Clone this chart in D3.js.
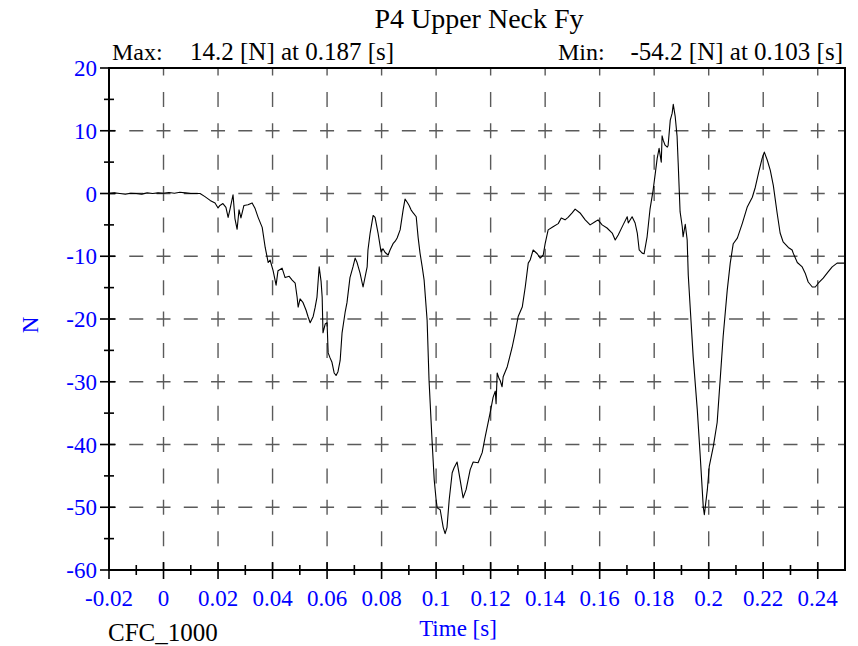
<!DOCTYPE html>
<html><head><meta charset="utf-8">
<script src="https://cdn.jsdelivr.net/npm/d3@7"></script>
<style>html,body{margin:0;padding:0;background:#fff;}svg{display:block;}</style>
</head><body>
<script>
// ---- data ----
const title = "P4 Upper Neck Fy";
const maxText = "14.2 [N] at 0.187 [s]";
const minText = "-54.2 [N] at 0.103 [s]";
const xTicks = [-0.02,0,0.02,0.04,0.06,0.08,0.1,0.12,0.14,0.16,0.18,0.2,0.22,0.24];
const xTickLabels = ["-0.02","0","0.02","0.04","0.06","0.08","0.1","0.12","0.14","0.16","0.18","0.2","0.22","0.24"];
const yTicks = [20,10,0,-10,-20,-30,-40,-50,-60];
const yTickLabels = ["20","10","0","-10","-20","-30","-40","-50","-60"];
const time = [-0.02,-0.018,-0.016,-0.014,-0.012,-0.010,-0.008,-0.006,-0.004,-0.002,0.000,0.002,0.004,0.006,0.008,0.010,0.0134,0.0152,0.0171,0.0189,0.0200,0.0207,0.0218,0.0229,0.0237,0.0244,0.0255,0.0262,0.0270,0.0277,0.0284,0.0295,0.0310,0.0325,0.0336,0.0347,0.0362,0.0373,0.0384,0.0391,0.0402,0.0413,0.0420,0.0435,0.0446,0.0461,0.0472,0.0483,0.0490,0.0494,0.0501,0.0512,0.0523,0.0530,0.0538,0.0549,0.0556,0.0563,0.0571,0.0578,0.0582,0.0585,0.0593,0.0600,0.0604,0.0611,0.0618,0.0626,0.0633,0.0640,0.0648,0.0655,0.0666,0.0673,0.0684,0.0695,0.0703,0.0710,0.0721,0.0732,0.0747,0.0750,0.0758,0.0769,0.0776,0.0787,0.0798,0.0805,0.0813,0.0824,0.0831,0.0842,0.0850,0.0857,0.0868,0.0879,0.0886,0.0894,0.0901,0.0908,0.0916,0.0927,0.0934,0.0941,0.0949,0.0956,0.0967,0.0974,0.0985,0.0993,0.1000,0.1004,0.1015,0.1026,0.1033,0.1040,0.1048,0.1059,0.1066,0.1077,0.1088,0.1099,0.1110,0.1125,0.1136,0.1154,0.1169,0.1180,0.1198,0.1209,0.1217,0.1220,0.1224,0.1231,0.1235,0.1242,0.1246,0.1261,0.1279,0.1290,0.1301,0.1316,0.1327,0.1338,0.1345,0.1356,0.1371,0.1382,0.1393,0.1400,0.1411,0.1429,0.1448,0.1459,0.1473,0.1484,0.1499,0.1510,0.1528,0.1547,0.1565,0.1583,0.1594,0.1609,0.1627,0.1646,0.1657,0.1668,0.1686,0.1701,0.1705,0.1719,0.1730,0.1738,0.1745,0.1756,0.1763,0.1774,0.1785,0.1796,0.1804,0.1811,0.1818,0.1826,0.1829,0.1833,0.1840,0.1848,0.1851,0.1859,0.1866,0.1870,0.1877,0.1884,0.1888,0.1895,0.1903,0.1906,0.1914,0.1921,0.1925,0.1932,0.1943,0.1958,0.1969,0.1980,0.1984,0.1995,0.2002,0.2017,0.2031,0.2042,0.2053,0.2068,0.2079,0.2090,0.2105,0.2123,0.2141,0.2160,0.2171,0.2185,0.2196,0.2204,0.2215,0.2226,0.2237,0.2251,0.2262,0.2273,0.2292,0.2306,0.2310,0.2325,0.2343,0.2354,0.2365,0.2380,0.2391,0.2402,0.2420,0.2438,0.2453,0.2471,0.2500];
const force = [0.0,0.1,0.0,-0.1,0.05,0.0,-0.1,0.1,0.0,0.1,0.05,0.15,0.05,0.2,0.1,0.0,0.0,-0.5,-1.1,-1.5,-2.3,-1.9,-1.6,-2.2,-3.8,-2.5,-0.2,-4.0,-5.7,-2.6,-3.9,-1.9,-1.8,-1.5,-2.4,-3.8,-5.4,-8.6,-11.0,-10.6,-12.3,-14.6,-12.3,-11.9,-13.4,-13.2,-13.8,-14.3,-16.5,-18.1,-16.8,-17.4,-18.6,-19.6,-20.6,-19.6,-18.2,-16.5,-11.7,-14.0,-16.5,-22.2,-20.8,-20.6,-25.4,-26.2,-26.9,-28.6,-29.0,-28.4,-26.6,-22.2,-19.0,-17.4,-13.4,-11.7,-10.3,-11.0,-12.7,-14.9,-11.7,-9.0,-6.3,-3.5,-3.8,-6.3,-9.3,-8.8,-9.4,-9.8,-9.0,-8.0,-7.6,-7.1,-5.8,-2.6,-0.9,-1.4,-1.9,-2.6,-3.1,-3.7,-7.0,-9.5,-11.7,-13.8,-20.2,-29.7,-39.3,-45.6,-48.8,-50.1,-50.4,-53.2,-54.2,-53.2,-48.8,-44.5,-43.7,-42.8,-45.6,-48.5,-47.2,-44.0,-42.8,-42.9,-41.3,-38.8,-35.0,-32.5,-31.5,-33.5,-28.6,-29.5,-29.8,-30.8,-29.2,-27.6,-24.5,-22.2,-19.6,-18.1,-14.9,-11.1,-10.6,-9.0,-9.6,-10.3,-9.8,-8.0,-5.8,-5.3,-4.8,-3.9,-4.2,-3.8,-3.1,-2.5,-3.1,-4.2,-5.0,-4.5,-4.2,-5.0,-5.5,-6.3,-7.4,-6.6,-5.0,-3.7,-4.7,-3.7,-4.7,-6.3,-9.0,-9.5,-9.6,-6.9,-2.4,0.5,3.2,5.6,7.2,5.0,9.2,8.5,7.7,7.4,7.6,11.7,12.8,14.2,12.3,9.1,4.9,-2.9,-5.3,-6.9,-4.9,-7.4,-13.0,-18.1,-26.0,-34.4,-41.9,-49.9,-51.2,-47.2,-43.5,-40.3,-36.5,-29.7,-22.8,-15.4,-11.1,-8.0,-7.1,-4.8,-2.2,-0.6,1.0,3.7,5.6,6.6,5.3,3.7,1.3,-3.1,-6.3,-7.7,-8.6,-9.0,-9.5,-11.0,-11.7,-12.7,-14.1,-14.9,-14.9,-14.3,-13.5,-12.5,-11.7,-11.1,-11.1];

// ---- layout ----
const W = 858, H = 646;
const L = 109, R = 845, T = 68, B = 570;
const FONT = "'Liberation Serif','Times New Roman',serif";
const BLUE = "#0000ff";

const svg = d3.select("body").append("svg").attr("width", W).attr("height", H);
svg.append("rect").attr("width", W).attr("height", H).attr("fill", "#fff");

const x = d3.scaleLinear().domain([-0.02, 0.25]).range([L, R]);
const y = d3.scaleLinear().domain([-60, 20]).range([B, T]);

// grid
const gx = x(0.02) - x(0), gy = y(0) - y(10);
const grid = svg.append("g").attr("stroke", "#5a5a5a").attr("stroke-width", 1.4).attr("fill", "none");
yTicks.filter(v => v > -60 && v < 20).forEach(v => {
  grid.append("line").attr("x1", L).attr("x2", R).attr("y1", y(v)).attr("y2", y(v))
    .attr("stroke-dasharray", `14 ${gx/2 - 14}`).attr("stroke-dashoffset", 7);
});
xTicks.filter(v => v > -0.02).forEach(v => {
  grid.append("line").attr("x1", x(v)).attr("x2", x(v)).attr("y1", T).attr("y2", B)
    .attr("stroke-dasharray", `15 ${gy/2 - 15}`).attr("stroke-dashoffset", 7.5);
});

// data line
const line = d3.line().x((d, i) => x(time[i])).y(d => y(d));
svg.append("path").datum(force).attr("d", line).attr("fill", "none")
  .attr("stroke", "#000").attr("stroke-width", 1.1).attr("stroke-linejoin", "round");

// frame
svg.append("rect").attr("x", L).attr("y", T).attr("width", R - L).attr("height", B - T)
  .attr("fill", "none").attr("stroke", "#000").attr("stroke-width", 2);

// axes ticks
const xMinor = d3.range(-0.01, 0.25, 0.02);
const ax = svg.append("g").attr("stroke", "#000").attr("stroke-width", 1.6);
xTicks.forEach(v => ax.append("line").attr("x1", x(v)).attr("x2", x(v)).attr("y1", B - 8).attr("y2", B + 9));
xMinor.forEach(v => ax.append("line").attr("x1", x(v)).attr("x2", x(v)).attr("y1", B - 5).attr("y2", B + 5));
yTicks.forEach(v => ax.append("line").attr("x1", L - 9).attr("x2", L + 6).attr("y1", y(v)).attr("y2", y(v)));
d3.range(15, -60, -10).forEach(v => ax.append("line").attr("x1", L - 5).attr("x2", L + 5).attr("y1", y(v)).attr("y2", y(v)));

// tick labels
svg.append("g").selectAll("text").data(xTicks).join("text")
  .attr("x", d => x(d)).attr("y", 606).attr("text-anchor", "middle")
  .attr("font-family", FONT).attr("font-size", 23).attr("fill", BLUE)
  .text((d, i) => xTickLabels[i]);
svg.append("g").selectAll("text").data(yTicks).join("text")
  .attr("x", 97).attr("y", d => y(d) + 8).attr("text-anchor", "end")
  .attr("font-family", FONT).attr("font-size", 23).attr("fill", BLUE)
  .text((d, i) => yTickLabels[i]);

// titles
svg.append("text").attr("x", 479).attr("y", 28).attr("text-anchor", "middle")
  .attr("font-family", FONT).attr("font-size", 28).attr("fill", "#000").text(title);
svg.append("text").attr("x", 112).attr("y", 60)
  .attr("font-family", FONT).attr("font-size", 24).attr("fill", "#000").text("Max:");
svg.append("text").attr("x", 190).attr("y", 60)
  .attr("font-family", FONT).attr("font-size", 25).attr("fill", "#000").text(maxText);
svg.append("text").attr("x", 558).attr("y", 60)
  .attr("font-family", FONT).attr("font-size", 24).attr("fill", "#000").text("Min:");
svg.append("text").attr("x", 843).attr("y", 60).attr("text-anchor", "end")
  .attr("font-family", FONT).attr("font-size", 25).attr("fill", "#000").text(minText);
svg.append("text").attr("x", 458).attr("y", 636).attr("text-anchor", "middle")
  .attr("font-family", FONT).attr("font-size", 23).attr("fill", BLUE).text("Time [s]");
svg.append("text").attr("x", 108).attr("y", 641)
  .attr("font-family", FONT).attr("font-size", 25).attr("fill", "#000").text("CFC_1000");
svg.append("text").attr("transform", "translate(38,325) rotate(-90)").attr("text-anchor", "middle")
  .attr("font-family", FONT).attr("font-size", 23).attr("fill", BLUE).text("N");
</script>
</body></html>
